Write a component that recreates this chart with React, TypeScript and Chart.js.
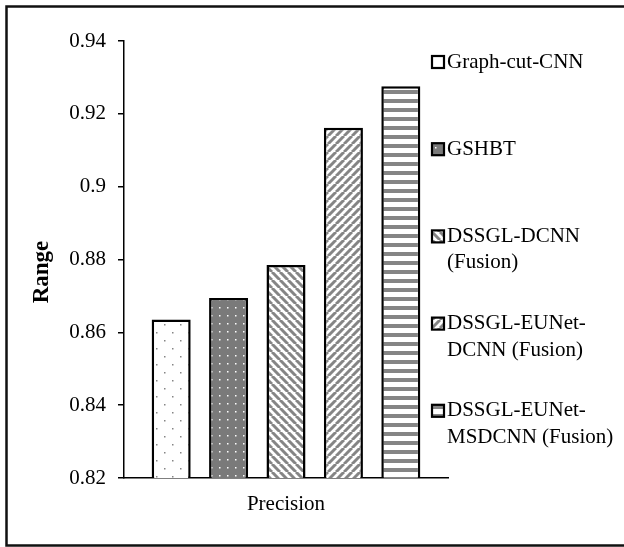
import React, { useEffect, useRef } from "react";
import { Chart, registerables } from "chart.js";

Chart.register(...registerables);

const categories = ["Precision"];
const seriesNames = [
  "Graph-cut-CNN",
  "GSHBT",
  "DSSGL-DCNN (Fusion)",
  "DSSGL-EUNet-DCNN (Fusion)",
  "DSSGL-EUNet-MSDCNN (Fusion)",
];
const legendLines = [
  ["Graph-cut-CNN"],
  ["GSHBT"],
  ["DSSGL-DCNN", "(Fusion)"],
  ["DSSGL-EUNet-", "DCNN (Fusion)"],
  ["DSSGL-EUNet-", "MSDCNN (Fusion)"],
];
const graphCutCNN = [0.8635];
const gshbt = [0.8694];
const dssglDcnn = [0.8785];
const dssglEunetDcnn = [0.9162];
const dssglEunetMsdcnn = [0.9276];
const seriesValues = [graphCutCNN, gshbt, dssglDcnn, dssglEunetDcnn, dssglEunetMsdcnn];
const yTicks = [0.82, 0.84, 0.86, 0.88, 0.9, 0.92, 0.94];
const yTitle = "Range";

const FONT = "'Liberation Serif', 'Times New Roman', serif";
const GRAY = "#858585";

function makePattern(kind: number): CanvasPattern | string {
  const c = document.createElement("canvas");
  const ctx = c.getContext("2d")!;
  if (kind === 0) {
    c.width = 16; c.height = 16;
    ctx.fillStyle = "#fff"; ctx.fillRect(0, 0, 16, 16);
    ctx.fillStyle = GRAY;
    ctx.fillRect(4, 4, 1.5, 1.5);
    ctx.fillRect(12, 12, 1.5, 1.5);
  } else if (kind === 1) {
    c.width = 8; c.height = 8;
    ctx.fillStyle = "#7a7a7a"; ctx.fillRect(0, 0, 8, 8);
    ctx.fillStyle = "#fff";
    ctx.fillRect(3, 3, 1.5, 1.5);
  } else if (kind === 2 || kind === 3) {
    const s = 8;
    c.width = s; c.height = s;
    ctx.fillStyle = "#fff"; ctx.fillRect(0, 0, s, s);
    ctx.strokeStyle = GRAY; ctx.lineWidth = 3;
    for (const k of [-s, 0, s]) {
      ctx.beginPath();
      if (kind === 2) { ctx.moveTo(k, 0); ctx.lineTo(k + s, s); }
      else { ctx.moveTo(k + s, 0); ctx.lineTo(k, s); }
      ctx.stroke();
    }
  } else {
    c.width = 4; c.height = 9;
    ctx.fillStyle = "#fff"; ctx.fillRect(0, 0, 4, 9);
    ctx.fillStyle = GRAY; ctx.fillRect(0, 0, 4, 4);
  }
  return ctx.createPattern(c, "repeat") || GRAY;
}

export default function App() {
  const ref = useRef<HTMLCanvasElement>(null);
  useEffect(() => {
    if (!ref.current) return;
    const patterns = seriesNames.map((_, i) => makePattern(i));
    const decor = {
      id: "decor",
      afterDraw(chart: any) {
        const ctx = chart.ctx as CanvasRenderingContext2D;
        ctx.save();
        // frame
        ctx.strokeStyle = "#111";
        ctx.lineWidth = 2.5;
        ctx.beginPath();
        ctx.moveTo(700, 6.5);
        ctx.lineTo(6.5, 6.5);
        ctx.lineTo(6.5, 545.5);
        ctx.lineTo(700, 545.5);
        ctx.stroke();
        // y title
        ctx.save();
        ctx.translate(42, 272);
        ctx.rotate(-Math.PI / 2);
        ctx.font = `bold 23px ${FONT}`;
        ctx.fillStyle = "#000";
        ctx.textAlign = "center";
        ctx.textBaseline = "middle";
        ctx.fillText(yTitle, 0, 0);
        ctx.restore();
        // legend
        ctx.font = `21px ${FONT}`;
        ctx.textBaseline = "middle";
        ctx.textAlign = "left";
        legendLines.forEach((lines, i) => {
          const y = 62 + i * 87.2;
          ctx.fillStyle = patterns[i] as any;
          ctx.fillRect(432, y - 6, 12, 12);
          ctx.strokeStyle = "#000";
          ctx.lineWidth = 2.2;
          ctx.strokeRect(432, y - 6, 12, 12);
          ctx.fillStyle = "#000";
          lines.forEach((t, j) => ctx.fillText(t, 447, y + j * 26.5));
        });
        ctx.restore();
      },
    };
    const chart = new Chart(ref.current, {
      type: "bar",
      data: {
        labels: categories,
        datasets: seriesNames.map((name, i) => ({
          label: name,
          data: seriesValues[i],
          backgroundColor: patterns[i] as any,
          borderColor: "#000",
          borderWidth: 2.5,
          borderSkipped: false,
          categoryPercentage: 0.886,
          barPercentage: 0.68,
        })),
      },
      options: {
        responsive: false,
        animation: false,
        events: [],
        layout: { padding: { left: 0, top: 41, right: 176, bottom: 0 } },
        plugins: { legend: { display: false }, tooltip: { enabled: false } },
        scales: {
          x: {
            grid: { display: false, drawTicks: false },
            border: { display: true, color: "#000", width: 1.5 },
            ticks: { color: "#000", font: { family: FONT, size: 21 }, padding: 14 },
            afterFit: (s: any) => { s.height = 69; },
          },
          y: {
            min: 0.82,
            max: 0.94,
            afterBuildTicks: (s: any) => { s.ticks = yTicks.map((v) => ({ value: v })); },
            grid: { drawOnChartArea: false, drawTicks: true, tickLength: 6, color: "#000", lineWidth: 1.5 },
            border: { display: true, color: "#000", width: 1.5 },
            ticks: {
              color: "#000",
              font: { family: FONT, size: 21 },
              padding: 12,
              callback: (v: any) => String(Number(Number(v).toFixed(2))),
            },
            afterFit: (s: any) => { s.width = 124; },
          },
        },
      },
      plugins: [decor],
    });
    return () => chart.destroy();
  }, []);
  return (
    <div style={{ position: "absolute", left: 0, top: 0, width: 624, height: 547, background: "#fff" }}>
      <canvas ref={ref} width={624} height={547} style={{ display: "block" }} />
    </div>
  );
}
